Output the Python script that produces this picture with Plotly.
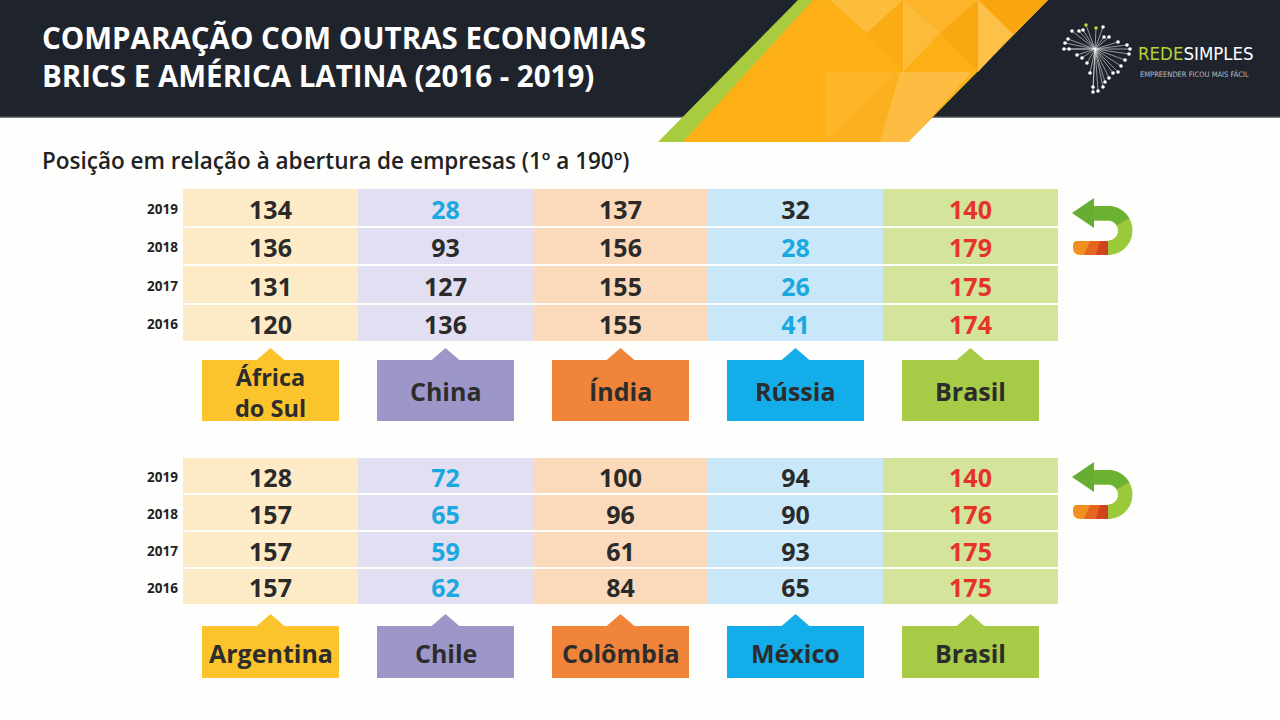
import numpy as np
import plotly.graph_objects as go

# --- data ---
YEARS = ['2019', '2018', '2017', '2016']

BRICS_COUNTRIES = ['África<br>do Sul', 'China', 'Índia', 'Rússia', 'Brasil']
BRICS_RANKS = [
    [134, 28, 137, 32, 140],   # 2019
    [136, 93, 156, 28, 179],   # 2018
    [131, 127, 155, 26, 175],  # 2017
    [120, 136, 155, 41, 174],  # 2016
]

LATAM_COUNTRIES = ['Argentina', 'Chile', 'Colômbia', 'México', 'Brasil']
LATAM_RANKS = [
    [128, 72, 100, 94, 140],   # 2019
    [157, 65, 96, 90, 176],    # 2018
    [157, 59, 61, 93, 175],    # 2017
    [157, 62, 84, 65, 175],    # 2016
]

TITLE = 'COMPARAÇÃO COM OUTRAS ECONOMIAS<br>BRICS E AMÉRICA LATINA (2016 - 2019)'
SUBTITLE = 'Posição em relação à abertura de empresas (1º a 190º)'

# --- styling ---
W, H = 1280, 720
FONT = '"Open Sans", Lato, sans-serif'
NARROW = '"DejaVu Sans Condensed", "Liberation Sans Narrow", sans-serif'
PALE = ['#fdebc8', '#e1dff1', '#fbd9bb', '#c8e7f8', '#d4e49b']
SOLID = ['#fbc42d', '#9d97c9', '#f0843a', '#13aeea', '#a7cb46']
DARK = '#2b2a2a'
BLUE = '#1aa8e0'
RED = '#e5332a'
COL_LEFT, COL_W = 183, 175

fig = go.Figure()
shapes = []
annotations = []


def cell_colors(ranks):
    # Brasil in red, best position of the other countries in blue
    out = []
    for row in ranks:
        best = min(row[:-1])
        cols = []
        for j, v in enumerate(row):
            if j == len(row) - 1:
                cols.append(RED)
            elif v == best:
                cols.append(BLUE)
            else:
                cols.append(DARK)
        out.append(cols)
    return out


def add_table(countries, ranks, top, row_h, box_top, box_h, label_y):
    ncol = len(countries)
    xs = [COL_LEFT + COL_W * (j + 0.5) for j in range(ncol)]
    ys = [top + row_h * (i + 0.5) for i in range(len(YEARS))]
    # coloured columns
    fig.add_trace(go.Heatmap(
        z=[list(range(ncol)) for _ in YEARS], x=xs, y=ys,
        colorscale=[[k / (ncol - 1), c] for k, c in enumerate(PALE)],
        zmin=0, zmax=ncol - 1, showscale=False, xgap=0, ygap=2,
        hoverinfo='skip'))
    # ranks
    colors = cell_colors(ranks)
    fig.add_trace(go.Scatter(
        x=[x for _ in ys for x in xs],
        y=[y + 5 for y in ys for _ in xs],
        text=[str(v) for row in ranks for v in row],
        mode='text', textposition='middle center',
        textfont=dict(family=FONT, size=25, weight='bold',
                      color=[c for row in colors for c in row]),
        hoverinfo='skip', showlegend=False))
    # year labels
    fig.add_trace(go.Scatter(
        x=[COL_LEFT - 5] * len(ys), y=[y + 3 for y in ys], text=YEARS,
        mode='text', textposition='middle left',
        textfont=dict(family=FONT, size=13.5, weight='bold', color='#222222'),
        hoverinfo='skip', showlegend=False))
    # label boxes with pointer
    for j, name in enumerate(countries):
        cx = xs[j]
        shapes.append(dict(type='rect', x0=cx - 68.5, x1=cx + 68.5,
                           y0=box_top, y1=box_top + box_h,
                           fillcolor=SOLID[j], line=dict(width=0), layer='above'))
        shapes.append(dict(type='path',
                           path=f'M {cx - 15} {box_top + 1} L {cx} {box_top - 12} L {cx + 15} {box_top + 1} Z',
                           fillcolor=SOLID[j], line=dict(width=0), layer='above'))
        two_lines = '<br>' in name
        annotations.append(dict(x=cx, y=label_y + (1 if two_lines else 0), text=name, showarrow=False,
                                xanchor='center', yanchor='middle',
                                font=dict(family=FONT, size=23.5 if two_lines else 25,
                                          color='#2d2c2c', weight='bold')))


add_table(BRICS_COUNTRIES, BRICS_RANKS, 188, 38.5, 360, 61, 391)
add_table(LATAM_COUNTRIES, LATAM_RANKS, 457, 36.9, 626, 52, 653)


# --- header band ---
def poly(path, color):
    return dict(type='path', path=path, fillcolor=color, line=dict(width=0), layer='below')


header = [
    dict(type='rect', x0=0, x1=W, y0=0, y1=117, fillcolor='#1f242c', line=dict(width=0), layer='below'),
    dict(type='line', x0=0, x1=W, y0=117, y1=117, line=dict(color='#4b5058', width=1.5), layer='below'),
    # yellow parallelogram with green edge
    poly('M 798 0 L 1048 0 L 908 142 L 658 142 Z', '#a9cb3f'),
    poly('M 813 0 L 1048 0 L 908 142 L 683 142 Z', '#fdb016'),
    # faceted lighter / darker triangles
    poly('M 830 0 L 903 0 L 867 33 Z', '#fdbd3c'),
    poly('M 903 0 L 978 0 L 940 33 Z', '#fcb52a'),
    poly('M 978 0 L 1048 0 L 1013 34 Z', '#f9a50d'),
    poly('M 978 0 L 1013 34 L 978 72 Z', '#fdc048'),
    poly('M 940 33 L 978 0 L 978 72 Z', '#faa812'),
    poly('M 903 0 L 940 33 L 903 72 Z', '#fdbb3a'),
    poly('M 867 33 L 903 0 L 903 72 Z', '#fbab14'),
    poly('M 825 72 L 900 72 L 825 142 Z', '#fcb526'),
    poly('M 900 72 L 972 72 L 908 142 L 880 142 Z', '#fdbd42'),
    poly('M 825 142 L 900 72 L 880 142 Z', '#fcb020'),
]
shapes = header + shapes

# --- logo starburst ---
LOGO_C = (1095, 49)
logo_dots = [(1072, 31), (1079, 31), (1083, 30), (1103, 27), (1104, 37), (1109, 37),
             (1118, 42), (1127, 45), (1130, 49), (1129, 54), (1125, 60), (1121, 66),
             (1118, 72), (1113, 73), (1109, 78), (1105, 82), (1103, 87), (1098, 91),
             (1093, 92), (1093, 87), (1090, 73), (1087, 63), (1082, 58), (1077, 55),
             (1069, 49), (1064, 49), (1065, 43), (1068, 39)]
logo_green = [(1086, 25), (1096, 28)]
for dx, dy in logo_dots + logo_green:
    shapes.append(dict(type='line', x0=LOGO_C[0], y0=LOGO_C[1], x1=dx, y1=dy,
                       line=dict(color='rgba(255,255,255,0.75)', width=0.7)))
for pts, col in [(logo_dots, 'white'), (logo_green, '#b5d334')]:
    for dx, dy in pts:
        shapes.append(dict(type='circle', x0=dx - 1.8, x1=dx + 1.8, y0=dy - 1.8, y1=dy + 1.8,
                           fillcolor=col, line=dict(width=0)))


# --- U-turn arrow icons ---
def arc_pts(cx, cy, r, a0, a1, n=24):
    t = np.linspace(np.radians(a0), np.radians(a1), n)
    return [(cx + r * np.cos(a), cy + r * np.sin(a)) for a in t]


def add_arrow(top):
    cx, cy = 1108, top + 32.5
    b0, b1 = top + 43, top + 57
    shapes.append(dict(type='path',
                       path=f'M 1076 {b0} L 1110 {b0} L 1110 {b1} L 1080 {b1} Q 1073 {b1} 1073 {b0 + 6} Q 1073 {b0} 1076 {b0} Z',
                       fillcolor='#f0901f', line=dict(width=0)))
    shapes.append(dict(type='path',
                       path=f'M 1090 {b0} L 1110 {b0} L 1110 {b1} L 1084 {b1} Z',
                       fillcolor='#e5661f', line=dict(width=0)))
    shapes.append(dict(type='path',
                       path=f'M 1100 {b0} L 1110 {b0} L 1110 {b1} L 1096 {b1} Z',
                       fillcolor='#d4431f', line=dict(width=0)))
    outer = arc_pts(cx, cy, 24.5, -90, 90)
    inner = arc_pts(cx, cy, 10, 90, -90)
    pts = [(1093, top + 8)] + outer + inner + [(1093, top + 22.5)]
    p = 'M ' + ' L '.join(f'{x:.1f} {y:.1f}' for x, y in pts) + ' Z'
    shapes.append(dict(type='path', path=p, fillcolor='#9cc93c', line=dict(width=0)))
    top_arm = arc_pts(cx, cy, 24.5, -90, -30) + arc_pts(cx, cy, 10, -30, -90)
    pa = f'M 1093 {top + 8} L ' + ' L '.join(f'{x:.1f} {y:.1f}' for x, y in top_arm) + f' L 1093 {top + 22.5} Z'
    shapes.append(dict(type='path', path=pa, fillcolor='#6db133', line=dict(width=0)))
    shapes.append(dict(type='path',
                       path=f'M 1072 {top + 15} L 1094 {top} L 1094 {top + 30} Z',
                       fillcolor='#67ad32', line=dict(width=0)))


add_arrow(198)
add_arrow(462)

# --- texts ---
annotations += [
    dict(x=40, y=56, text=TITLE, showarrow=False, xanchor='left', yanchor='middle', align='left',
         font=dict(family=FONT, size=29.5, color='white', weight='bold')),
    dict(x=40, y=160, text=SUBTITLE, showarrow=False, xanchor='left', yanchor='middle',
         font=dict(family=FONT, size=22.5, color='#222222', weight=600)),
    dict(x=1136, y=53, text='<span style="color:#b3d334">REDE</span>SIMPLES', showarrow=False,
         xanchor='left', yanchor='middle',
         font=dict(family=NARROW, size=18.5, color='white')),
    dict(x=1138, y=74, text='EMPREENDER FICOU MAIS FÁCIL', showarrow=False, xanchor='left', yanchor='middle',
         font=dict(family=NARROW, size=7.5, color='#b9bcc0')),
]

fig.update_layout(
    width=W, height=H, margin=dict(l=0, r=0, t=0, b=0),
    paper_bgcolor='#fefefd', plot_bgcolor='#fefefd',
    xaxis=dict(range=[0, W], visible=False, fixedrange=True),
    yaxis=dict(range=[H, 0], visible=False, fixedrange=True),
    shapes=shapes, annotations=annotations, showlegend=False,
)

fig.write_html('out.html', config={'displayModeBar': False},
               post_script="document.body.style.margin='0';document.body.style.overflow='hidden';")
